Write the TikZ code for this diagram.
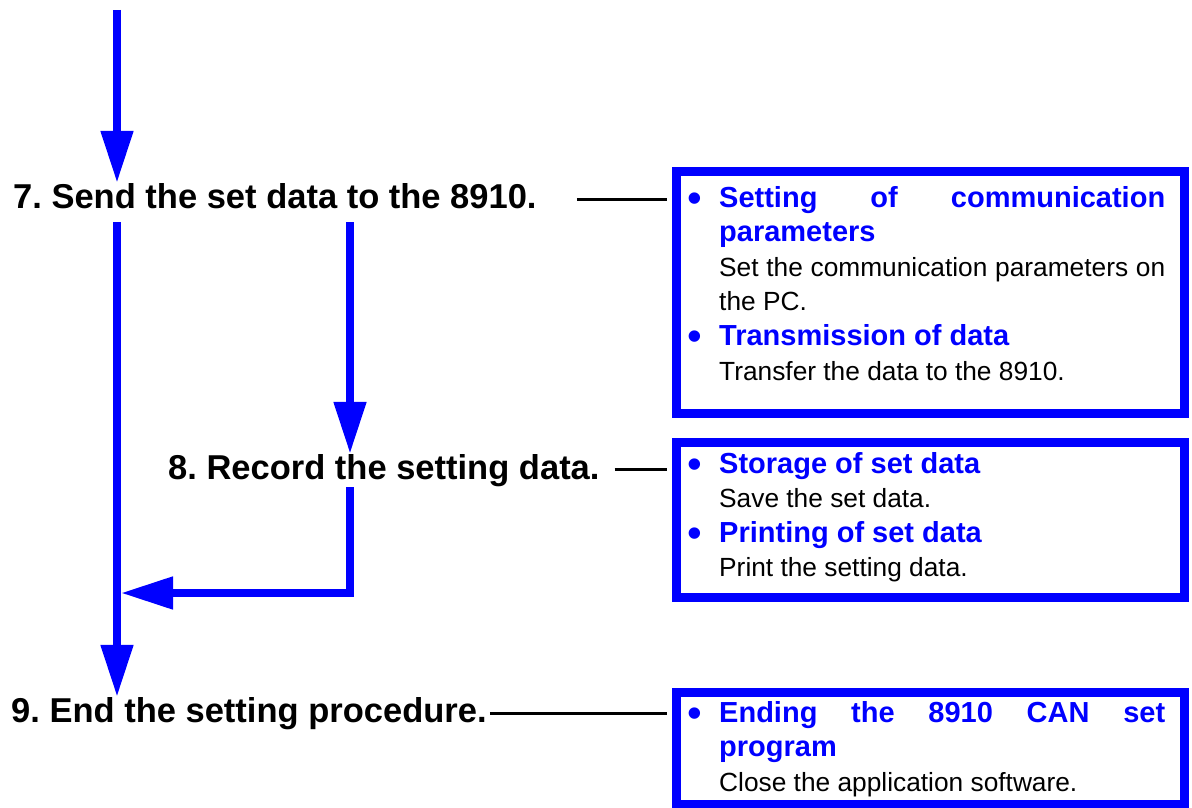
\documentclass[tikz,border=0pt]{standalone}
\usepackage{fontspec}
\setmainfont{Liberation Sans}
\usepackage{xcolor}
\usetikzlibrary{arrows.meta,positioning,calc}
\definecolor{flowblue}{HTML}{0000FF}
\frenchspacing
\hyphenpenalty=10000
\exhyphenpenalty=10000

\newcommand{\boxtitle}[1]{\leavevmode\llap{\raisebox{-5pt}{\fontsize{42}{34.6}\selectfont\textcolor{flowblue}{\textbullet}}\hspace{17pt}}{\fontsize{29}{34.6}\selectfont\bfseries\color{flowblue}#1}}

\tikzset{
  stepnode/.style={anchor=base west, inner sep=0pt, font=\fontsize{34.5}{40}\selectfont\bfseries},
  infobox/.style={draw=flowblue, line width=9pt, minimum width=508pt, inner sep=0pt},
  infotext/.style={anchor=base west, inner sep=0pt, text width=446pt, align=justify, font=\fontsize{26.3}{34.6}\selectfont},
  flow/.style={draw=flowblue, line width=8pt, -{Triangle[length=52pt,width=31pt]}},
  leader/.style={draw=black, line width=3pt, shorten >=4.5pt},
}

\begin{document}
\begin{tikzpicture}[x=1pt,y=-1pt]
\useasboundingbox (0,0) rectangle (1192,808);

% procedure steps
\node[stepnode] (s7) at (13,208) {7. Send the set data to the 8910.};
\node[stepnode] (s8) at (168,479) {8. Record the setting data.};
\node[stepnode] (s9) at (11,722) {9. End the setting procedure.};

% detail boxes
\node[infobox, minimum height=242pt] (box1) at (930,292) {};
\node[infobox, minimum height=155pt] (box2) at (930,520) {};
\node[infobox, minimum height=112pt] (box3) at (930,748) {};

\node[infotext] (t1) at (719,207) {\boxtitle{Setting of communication parameters}\newline
  Set the communication parameters on the PC.\par
  \boxtitle{Transmission of data}\newline
  Transfer the data to the 8910.};
\node[infotext] (t2) at (719,473) {\boxtitle{Storage of set data}\newline
  Save the set data.\par
  \boxtitle{Printing of set data}\newline
  Print the setting data.};
\node[infotext] (t3) at (719,722) {\boxtitle{Ending the 8910 CAN set program}\newline
  Close the application software.};

% leaders
\draw[leader] ($(s7.base east)+(40,-9)$) -- ($(s7.base east -| box1.west)+(0,-9)$);
\draw[leader] ($(s8.base east)+(15,-10)$) -- ($(s8.base east -| box2.west)+(0,-10)$);
\draw[leader] ($(s9.base east)+(3,-9)$) -- ($(s9.base east -| box3.west)+(0,-9)$);

% flow
\coordinate (start) at (117,10);
\coordinate (rec) at (350,222);
\coordinate (recb) at (350,487);
\coordinate (back) at (121,593);
\draw[flow] (start) -- (start |- s7.north);
\draw[flow] ($(start |- s7.base)+(0,14)$) -- (start |- s9.north);
\draw[flow] (rec) -- (rec |- s8.north);
\draw[flow] (recb) |- (back);
\end{tikzpicture}
\end{document}
